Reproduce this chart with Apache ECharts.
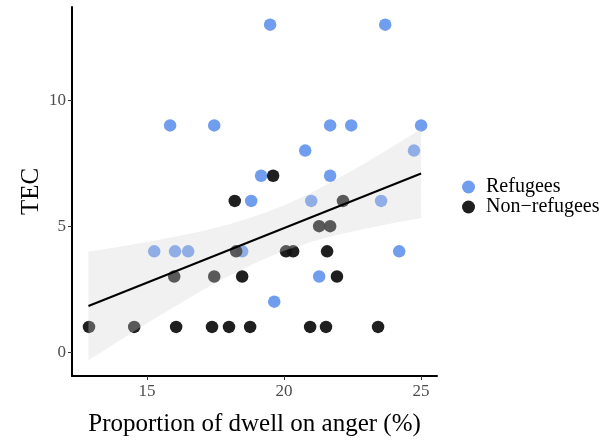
<!DOCTYPE html>
<html>
<head>
<meta charset="utf-8">
<script src="https://cdn.jsdelivr.net/npm/echarts@6/dist/echarts.min.js"></script>
<style>html,body{margin:0;padding:0;background:#fff;}#c{width:612px;height:441px;}</style>
</head>
<body>
<div id="c"></div>
<script>
const refugeesX = [19.49, 23.69, 15.84, 17.45, 21.68, 22.45, 25.0, 20.77, 24.74, 19.16, 21.68, 18.8, 20.99, 23.54, 15.26, 16.02, 16.5, 18.47, 24.2, 21.28, 19.64];
const refugeesY = [13, 13, 9, 9, 9, 9, 9, 8, 8, 7, 7, 6, 6, 6, 4, 4, 4, 4, 4, 3, 2];
const nonRefX = [19.6, 18.2, 22.15, 18.25, 20.07, 20.33, 21.57, 21.28, 21.68, 15.99, 17.45, 18.47, 21.93, 12.88, 14.53, 16.06, 17.37, 17.99, 18.76, 20.95, 21.53, 23.43];
const nonRefY = [7, 6, 6, 4, 4, 4, 4, 5, 5, 3, 3, 3, 3, 1, 1, 1, 1, 1, 1, 1, 1, 1];
const fitX = [12.86, 25.0];
const fitY = [1.83, 7.09];
const bandX = [12.86, 14, 15, 16, 17, 18, 19, 20, 21, 22, 23, 24, 25];
const bandLower = [-0.32, 0.46, 1.15, 1.80, 2.44, 3.03, 3.57, 4.02, 4.38, 4.67, 4.91, 5.12, 5.32];
const bandUpper = [3.98, 4.18, 4.37, 4.58, 4.80, 5.07, 5.41, 5.82, 6.33, 6.91, 7.53, 8.18, 8.86];
const xTicks = [15, 20, 25];
const yTicks = [0, 5, 10];

const zip = (a, b) => a.map((v, i) => [v, b[i]]);
const font = "'Liberation Serif', 'DejaVu Serif', serif";

const chart = echarts.init(document.getElementById('c'), null, {renderer: 'canvas'});
chart.setOption({
  animation: false,
  backgroundColor: '#ffffff',
  grid: {left: 72, right: 175, top: 7, bottom: 65, containLabel: false, outerBoundsMode: 'none'},
  legend: {
    data: ['Refugees', 'Non\u2212refugees'],
    orient: 'vertical',
    left: 457, top: 172,
    icon: 'circle', itemWidth: 13, itemHeight: 13, itemGap: 0,
    textStyle: {fontFamily: font, fontSize: 20, color: '#000', padding: [0, 0, 0, 6]}
  },
  xAxis: {
    type: 'value', min: 12.26, max: 25.58,
    name: 'Proportion of dwell on anger (%)', nameLocation: 'middle', nameGap: 36,
    nameMoveOverlap: false,
    nameTextStyle: {fontFamily: font, fontSize: 25, color: '#000'},
    axisLine: {show: true, onZero: false, lineStyle: {color: '#000', width: 2}},
    axisTick: {show: true, customValues: xTicks, length: 4, lineStyle: {color: '#333', width: 1}},
    axisLabel: {customValues: xTicks, fontFamily: font, fontSize: 17, color: '#4d4d4d', margin: 7},
    splitLine: {show: false}
  },
  yAxis: {
    type: 'value', min: -0.95, max: 13.7,
    name: 'TEC', nameLocation: 'middle', nameGap: 28,
    nameMoveOverlap: false,
    nameTextStyle: {fontFamily: font, fontSize: 25, color: '#000'},
    axisLine: {show: true, onZero: false, lineStyle: {color: '#000', width: 2}},
    axisTick: {show: true, customValues: yTicks, length: 4, lineStyle: {color: '#333', width: 1}},
    axisLabel: {customValues: yTicks, fontFamily: font, fontSize: 17, color: '#4d4d4d', margin: 6},
    splitLine: {show: false}
  },
  series: [
    {
      name: 'Refugees', type: 'scatter', symbolSize: 12.5, z: 2,
      itemStyle: {color: '#6495ED', opacity: 0.92},
      data: zip(refugeesX, refugeesY)
    },
    {
      name: 'Non\u2212refugees', type: 'scatter', symbolSize: 12.5, z: 2,
      itemStyle: {color: '#111111', opacity: 0.94},
      data: zip(nonRefX, nonRefY)
    },
    {
      name: 'band', type: 'custom', z: 3, silent: true,
      data: [0],
      renderItem: function (params, api) {
        const pts = [];
        bandX.forEach((x, i) => pts.push(api.coord([x, bandUpper[i]])));
        for (let i = bandX.length - 1; i >= 0; i--) pts.push(api.coord([bandX[i], bandLower[i]]));
        return {type: 'polygon', shape: {points: pts}, style: {fill: 'rgba(213,213,213,0.32)', stroke: null}};
      }
    },
    {
      name: 'fit', type: 'line', z: 4, symbol: 'none', silent: true,
      lineStyle: {color: '#000', width: 2},
      data: zip(fitX, fitY)
    }
  ]
});
</script>
</body>
</html>
